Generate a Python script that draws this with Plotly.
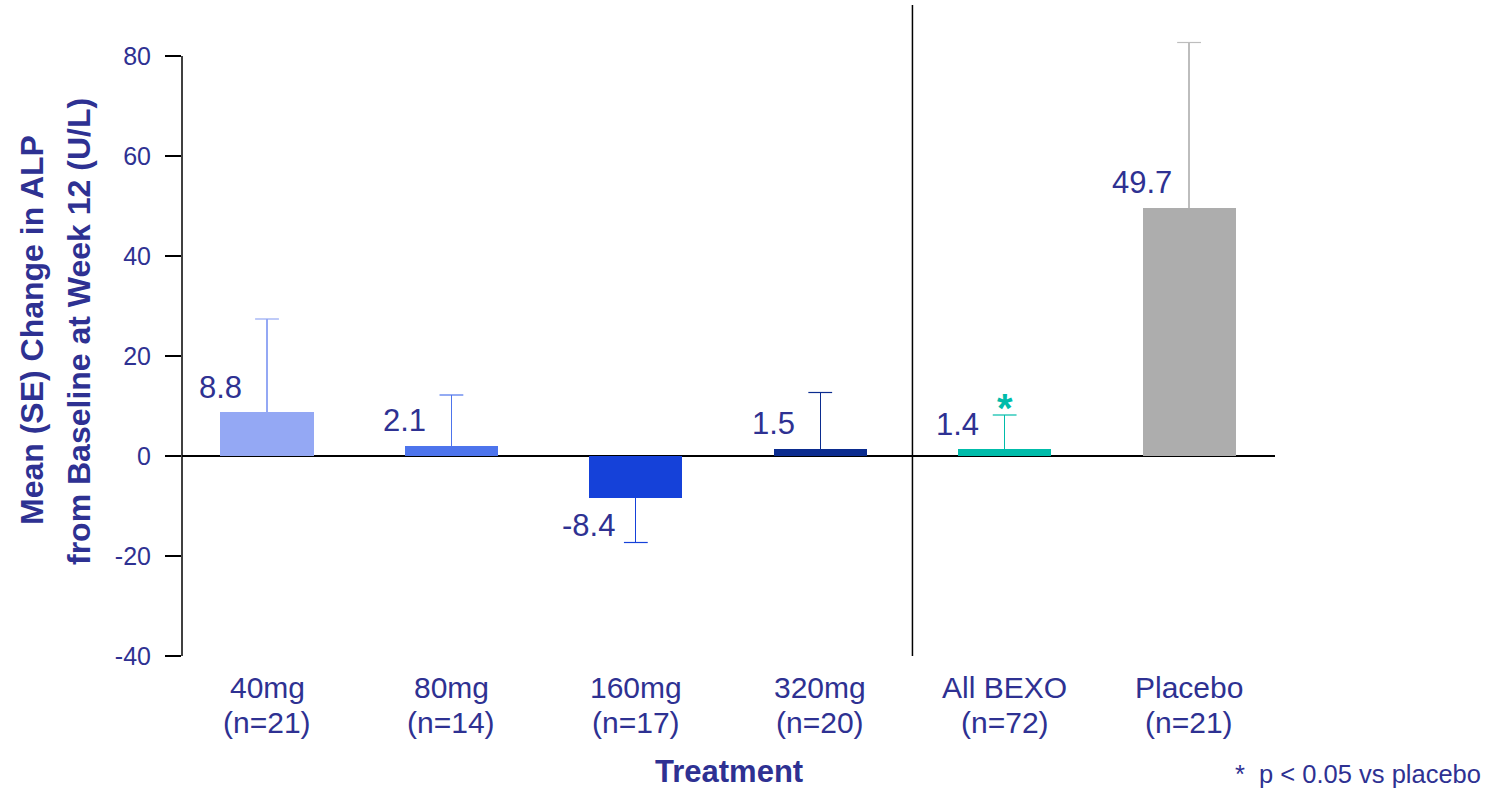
import plotly.graph_objects as go

# ALP change from baseline at week 12, by treatment arm
categories = ["40mg", "80mg", "160mg", "320mg", "All BEXO", "Placebo"]
n_labels = ["(n=21)", "(n=14)", "(n=17)", "(n=20)", "(n=72)", "(n=21)"]
mean_change = [8.8, 2.1, -8.4, 1.5, 1.4, 49.7]
se_values = [18.6, 10.1, 8.9, 11.2, 6.8, 33.0]
bar_colors = ["#94A8F4", "#4D74EC", "#1541D9", "#0B2C8F", "#00BCAA", "#ADADAD"]
err_colors = ["#94A8F4", "#4D74EC", "#1541D9", "#0B2C8F", "#00BCAA", "#BDBDBD"]
significant = [False, False, False, False, True, False]
y_ticks = [-40, -20, 0, 20, 40, 60, 80]

NAVY = "#2E3192"
FONT = "Arial, Liberation Sans, sans-serif"
Y_MIN, Y_MAX, Y_TOP = -40, 80, 86   # axis drawn to 80, headroom above for the placebo SE bar

fig = go.Figure()

# One trace per arm so each bar carries its own colour and one-sided SE bar
for i, (cat, m, se) in enumerate(zip(categories, mean_change, se_values)):
    up = se if m >= 0 else 0
    down = se if m < 0 else 0
    fig.add_trace(go.Bar(
        x=[i], y=[m], width=0.505,
        marker=dict(color=bar_colors[i], line=dict(width=0)),
        error_y=dict(type="data", symmetric=False, array=[up], arrayminus=[down],
                     color=err_colors[i], thickness=1.2, width=0),
        name=cat, showlegend=False, hoverinfo="skip",
    ))
    # cap at the far end of the SE whisker
    tip = m + se if m >= 0 else m - se
    fig.add_trace(go.Scatter(
        x=[i], y=[tip], mode="markers",
        marker=dict(symbol="line-ew", size=17, line=dict(color=err_colors[i], width=1.2)),
        showlegend=False, hoverinfo="skip", cliponaxis=False,
    ))

annotations = []

# Value labels to the upper-left (or lower-left) of each bar
for i, m in enumerate(mean_change):
    annotations.append(dict(
        x=i, y=m, xref="x", yref="y", text=f"{m:.1f}", showarrow=False,
        xanchor="center", yanchor="middle", xshift=-47,
        yshift=25 if m >= 0 else -27,
        font=dict(family=FONT, size=31, color=NAVY),
    ))

# Significance marker above the error bar
for i, sig in enumerate(significant):
    if sig:
        annotations.append(dict(
            x=i, y=mean_change[i] + se_values[i], xref="x", yref="y", text="<b>*</b>",
            showarrow=False, xanchor="center", yanchor="bottom", yshift=-17,
            font=dict(family=FONT, size=40, color=bar_colors[i]),
        ))

# Category labels (two lines) under the axis
for i, (cat, nl) in enumerate(zip(categories, n_labels)):
    annotations.append(dict(
        x=i, y=Y_MIN, xref="x", yref="y", text=cat, showarrow=False,
        xanchor="center", yanchor="middle", yshift=-31.5,
        font=dict(family=FONT, size=30, color=NAVY),
    ))
    annotations.append(dict(
        x=i, y=Y_MIN, xref="x", yref="y", text=nl, showarrow=False,
        xanchor="center", yanchor="middle", yshift=-66,
        font=dict(family=FONT, size=30, color=NAVY),
    ))

# Axis titles
annotations.append(dict(
    x=0, y=20, xref="paper", yref="y", text="<b>Mean (SE) Change in ALP</b>",
    showarrow=False, textangle=-90, xanchor="center", yanchor="middle",
    xshift=-150, yshift=26,
    font=dict(family=FONT, size=32, color=NAVY),
))
annotations.append(dict(
    x=0, y=20, xref="paper", yref="y",
    text="<b>from Baseline at Week 12 (U/L)</b>",
    showarrow=False, textangle=-90, xanchor="center", yanchor="middle",
    xshift=-103, yshift=24,
    font=dict(family=FONT, size=32, color=NAVY),
))
annotations.append(dict(
    x=0.5, y=Y_MIN, xref="paper", yref="y", text="<b>Treatment</b>",
    showarrow=False, xanchor="center", yanchor="middle", yshift=-115,
    font=dict(family=FONT, size=31, color=NAVY),
))

# Footnote
annotations.append(dict(
    x=1, y=Y_MIN, xref="paper", yref="y", text="*\u00a0\u00a0p < 0.05 vs placebo",
    showarrow=False, xanchor="right", yanchor="middle", xshift=208, yshift=-118,
    font=dict(family=FONT, size=25.5, color=NAVY),
))

fig.update_layout(
    width=1491, height=790,
    margin=dict(l=182, r=216, t=26, b=134, pad=0),
    paper_bgcolor="white", plot_bgcolor="white",
    annotations=annotations,
    bargap=0,
    xaxis=dict(
        range=[-0.461, 5.466], showticklabels=False, ticks="",
        showgrid=False, zeroline=False, showline=False, fixedrange=True,
    ),
    yaxis=dict(
        range=[Y_MIN, Y_TOP], tickvals=y_ticks, ticktext=[str(v) for v in y_ticks],
        ticks="outside", ticklen=16, tickwidth=1.5, tickcolor="black",
        showline=False,
        showgrid=False, zeroline=True, zerolinecolor="black", zerolinewidth=1.5,
        tickfont=dict(family=FONT, size=25, color=NAVY), ticklabelstandoff=9,
        fixedrange=True,
    ),
    shapes=[
        # value axis line, -40 to 80
        dict(type="line", xref="paper", yref="y", x0=0, x1=0, y0=Y_MIN, y1=Y_MAX,
             line=dict(color="black", width=1.5)),
        # separator between dose arms and pooled/placebo
        dict(type="line", xref="x", yref="paper", x0=3.5, x1=3.5, y0=0, y1=1.0333,
             line=dict(color="black", width=1.5)),
    ],
)

fig.write_html("out.html")
